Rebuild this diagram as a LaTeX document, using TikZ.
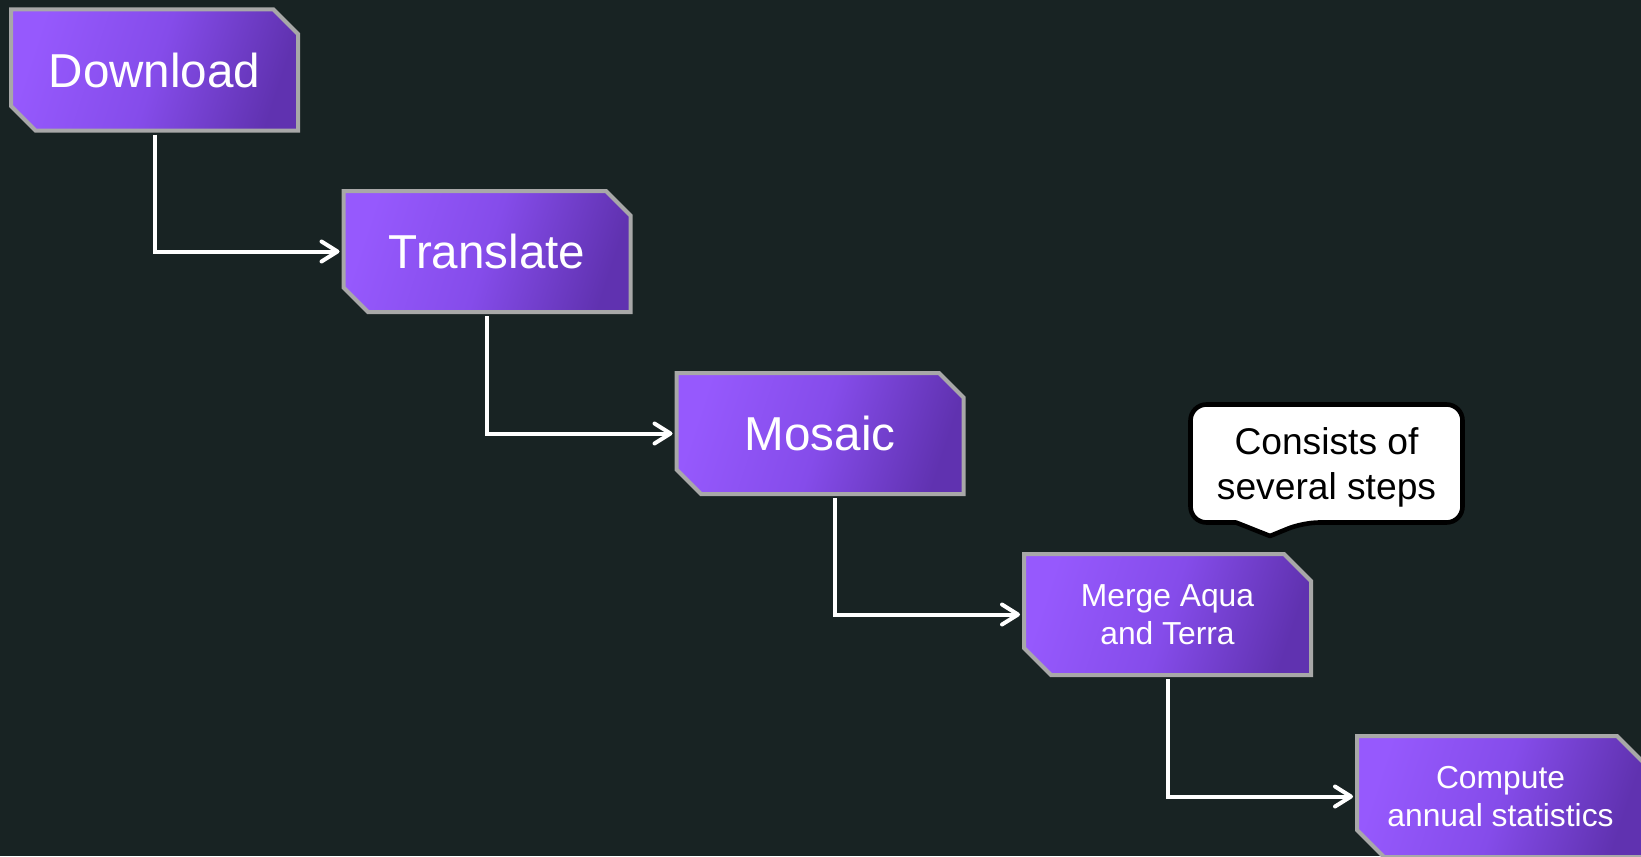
\documentclass[tikz,border=0pt]{standalone}
\usepackage{fontspec}
\setmainfont{Liberation Sans}
\usetikzlibrary{arrows.meta}
\usetikzlibrary{shapes.misc}
\usetikzlibrary{calc}

\definecolor{bgdark}{HTML}{182323}
\definecolor{boxlight}{HTML}{9659FD}
\definecolor{boxmid}{HTML}{854CEA}
\definecolor{boxdark}{HTML}{6032B0}
\definecolor{boxrim}{HTML}{A8A8A8}

\begin{document}
\begin{tikzpicture}[x=0.5pt, y=-0.5pt, >={Straight Barb[length=8pt,width=10pt,round]},
    stepbox/.style={chamfered rectangle, chamfered rectangle corners={north east,south west},
      chamfered rectangle xsep=10pt, draw=boxrim, line width=2pt,
      top color=boxlight, bottom color=boxdark, middle color=boxmid, shading angle=72, text=white,
      minimum width=143.5pt, minimum height=60.5pt, inner sep=0pt, align=center},
    bigtext/.style={font=\fontsize{23.8}{28}\selectfont},
    smalltext/.style={font=\fontsize{15.9}{19.2}\selectfont},
    link/.style={->, draw=white, line width=2pt, shorten <=1pt, shorten >=1pt},
    calloutbox/.style={draw=black, fill=white, line width=2.3pt, line join=round},
    callouttext/.style={text=black, align=center, inner sep=0pt, font=\fontsize{18.6}{22.4}\selectfont}]

    \useasboundingbox (0,0) rectangle (1641,856);
    \fill[bgdark] (0,0) rectangle (1641,856);

    % Steps
    \node[stepbox, bigtext] (dl) at (154.5,70) {Download};
    \node[stepbox, bigtext] (tr) at (487,251.5) {Translate};
    \node[stepbox, bigtext] (mo) at (820,433.5) {Mosaic};
    \node[stepbox, smalltext] (mg) at (1167.5,614.5) {Merge Aqua\\and Terra};
    \node[stepbox, smalltext] (cs) at (1500.5,796.5) {Compute\\annual statistics};

    % Connectors
    \draw[link] (dl.south) |- (tr.west);
    \draw[link] (tr.south) |- (mo.west);
    \draw[link] ([xshift=7.5pt]mo.south) |- (mg.west);
    \draw[link] (mg.south) |- (cs.west);

    % Callout
    \coordinate (cc) at (1326.5,463.5);
    \coordinate (tip) at (1270,536);
    \draw[calloutbox] ($(tip)+(-34,-13.5)$) [rounded corners=8pt]
      -- ($(cc)+(-136,59)$) -- ($(cc)+(-136,-59)$) -- ($(cc)+(136,-59)$)
      -- ($(cc)+(136,59)$) -- ($(tip)+(33,-13.5)$) [sharp corners] -- (tip) -- cycle;
    \node[callouttext] (note) at ($(cc)+(0,4)$) {Consists of\\several steps};

\end{tikzpicture}
\end{document}
